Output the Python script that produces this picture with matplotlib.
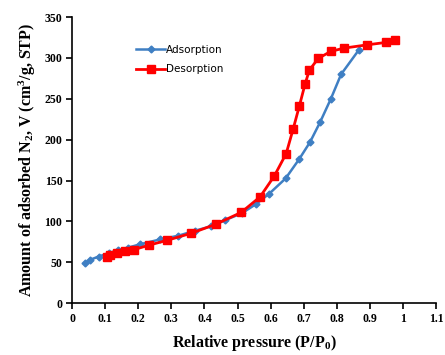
import matplotlib
matplotlib.use("Agg")
import matplotlib.pyplot as plt

# Adsorption branch (blue diamonds)
ads_p = [0.039, 0.054, 0.080, 0.113, 0.140, 0.170, 0.205, 0.266, 0.321, 0.370,
         0.420, 0.462, 0.513, 0.555, 0.596, 0.645, 0.686, 0.719, 0.749, 0.782,
         0.813, 0.867]
ads_v = [49, 53, 57, 61.5, 65, 68, 72, 78, 82.5, 88.5,
         94, 101.5, 110, 121, 134, 152.5, 176, 197, 221, 250,
         280, 310]

# Desorption branch (red squares)
des_p = [0.976, 0.949, 0.892, 0.822, 0.782, 0.744, 0.717, 0.704, 0.687, 0.668,
         0.647, 0.611, 0.568, 0.511, 0.434, 0.360, 0.288, 0.233, 0.187, 0.160,
         0.135, 0.115, 0.105]
des_v = [322, 319, 316, 312, 308, 299.5, 285, 268, 241.5, 213,
         183, 155.5, 130, 111, 96.5, 85.5, 77, 71, 65.5, 63.5,
         61, 59, 57]

x_ticks = [0, 0.1, 0.2, 0.3, 0.4, 0.5, 0.6, 0.7, 0.8, 0.9, 1, 1.1]
x_tick_labels = ["0", "0.1", "0.2", "0.3", "0.4", "0.5", "0.6", "0.7", "0.8", "0.9", "1", "1.1"]
y_ticks = [0, 50, 100, 150, 200, 250, 300, 350]

plt.rcParams["mathtext.fontset"] = "custom"
plt.rcParams["mathtext.rm"] = "Liberation Serif:bold"
plt.rcParams["mathtext.it"] = "Liberation Serif:bold"
plt.rcParams["mathtext.bf"] = "Liberation Serif:bold"
plt.rcParams["mathtext.default"] = "rm"

fig = plt.figure(figsize=(4.45, 3.55), dpi=100)
ax = fig.add_axes([0.162, 0.146, 0.818, 0.806])

blue = "#3F7FC3"
red = "#FF0000"
ax.plot(ads_p, ads_v, color=blue, lw=1.8, marker="D", ms=3.5,
        mec=blue, mfc=blue, label="Adsorption", zorder=2)
ax.plot(des_p, des_v, color=red, lw=2.0, marker="s", ms=6.3,
        mec=red, mfc=red, label="Desorption", zorder=3)

ax.set_xlim(0, 1.1)
ax.set_ylim(0, 350)
ax.set_xticks(x_ticks)
ax.set_xticklabels(x_tick_labels)
ax.set_yticks(y_ticks)

for s in ["top", "right"]:
    ax.spines[s].set_visible(False)
for s in ["left", "bottom"]:
    ax.spines[s].set_linewidth(1.2)
ax.tick_params(direction="out", length=4, width=1.2, labelsize=8.5, pad=3)
for lab in ax.get_xticklabels() + ax.get_yticklabels():
    lab.set_fontfamily("Liberation Serif")
    lab.set_fontweight("bold")

ax.set_xlabel("Relative pressure (P/P$_0$)", fontfamily="Liberation Serif",
              fontweight="bold", fontsize=11.5, labelpad=6)
ax.set_ylabel("Amount of adsorbed N$_2$, V (cm$^3$/g, STP)", fontfamily="Liberation Serif",
              fontweight="bold", fontsize=11.5, labelpad=5)

leg = ax.legend(loc="upper left", bbox_to_anchor=(0.15, 0.935), frameon=False,
                fontsize=7.5, handlelength=2.8, handletextpad=0.1, labelspacing=0.9)

fig.savefig("out.png", dpi=100)
